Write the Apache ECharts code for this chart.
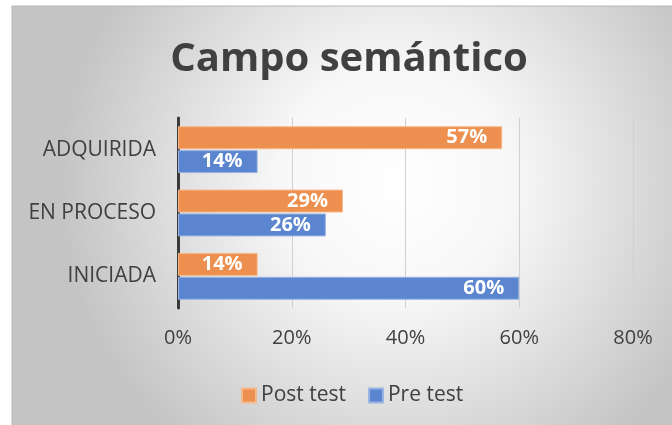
<!DOCTYPE html>
<html>
<head>
<meta charset="utf-8">
<script src="https://cdn.jsdelivr.net/npm/echarts@6/dist/echarts.min.js"></script>
<style>
  html, body { margin: 0; padding: 0; background: #fff; }
  #chart { width: 672px; height: 425px; }
</style>
</head>
<body>
<div id="chart"></div>
<script>
const categories = ['ADQUIRIDA', 'EN PROCESO', 'INICIADA']
const postTest = [57, 29, 14]
const preTest = [14, 26, 60]
const xTicks = [0, 20, 40, 60, 80]

const font = '"Open Sans", "Noto Sans", sans-serif'
const textColor = '#404040'

const myChart = echarts.init(document.getElementById('chart'))

myChart.setOption({
  backgroundColor: '#ffffff',
  animation: false,
  graphic: [
    {
      type: 'rect',
      z: -10,
      shape: { x: 12, y: 6, width: 662, height: 421 },
      style: {
        fill: new echarts.graphic.RadialGradient(0.58, 0.42, 0.8, [
          { offset: 0, color: '#ffffff' },
          { offset: 0.35, color: '#f7f7f7' },
          { offset: 1, color: '#c4c4c4' }
        ]),
        stroke: '#b8b8b8',
        lineWidth: 1
      }
    }
  ],
  title: {
    text: 'Campo semántico',
    left: 344,
    top: 35,
    textAlign: 'center',
    textStyle: {
      fontFamily: font,
      fontSize: 40,
      fontWeight: 'bold',
      color: textColor
    }
  },
  legend: {
    top: 380,
    left: 236,
    icon: 'rect',
    itemWidth: 14,
    itemHeight: 14,
    itemGap: 22,
    textStyle: {
      fontFamily: font,
      fontSize: 21,
      color: textColor
    },
    data: ['Post test', 'Pre test']
  },
  grid: {
    left: 178,
    right: 39,
    top: 118,
    bottom: 117,
    containLabel: false
  },
  xAxis: {
    type: 'value',
    min: xTicks[0],
    max: xTicks[xTicks.length - 1],
    interval: 20,
    axisLine: { show: false },
    axisTick: { show: false },
    splitLine: { lineStyle: { color: '#d0d0d0', width: 1 } },
    axisLabel: {
      margin: 20,
      fontFamily: font,
      fontSize: 20,
      color: textColor,
      formatter: '{value}%'
    }
  },
  yAxis: {
    type: 'category',
    inverse: true,
    data: categories,
    axisLine: { show: true, lineStyle: { color: '#3a3a3a', width: 3 } },
    axisTick: { show: false },
    axisLabel: {
      margin: 22,
      fontFamily: font,
      fontSize: 21,
      color: textColor
    }
  },
  series: [
    {
      name: 'Post test',
      type: 'bar',
      data: postTest,
      barGap: '4%',
      barCategoryGap: '26%',
      itemStyle: { color: '#ED8F4E', borderColor: '#F6B98C', borderWidth: 1 },
      label: {
        show: true,
        position: 'insideRight',
        distance: 15,
        formatter: '{c}%',
        fontFamily: font,
        fontSize: 20,
        fontWeight: 'bold',
        color: '#ffffff'
      }
    },
    {
      name: 'Pre test',
      type: 'bar',
      data: preTest,
      itemStyle: { color: '#5B86CF', borderColor: '#9AB4E3', borderWidth: 1 },
      label: {
        show: true,
        position: 'insideRight',
        distance: 15,
        formatter: '{c}%',
        fontFamily: font,
        fontSize: 20,
        fontWeight: 'bold',
        color: '#ffffff'
      }
    }
  ]
})
</script>
</body>
</html>
